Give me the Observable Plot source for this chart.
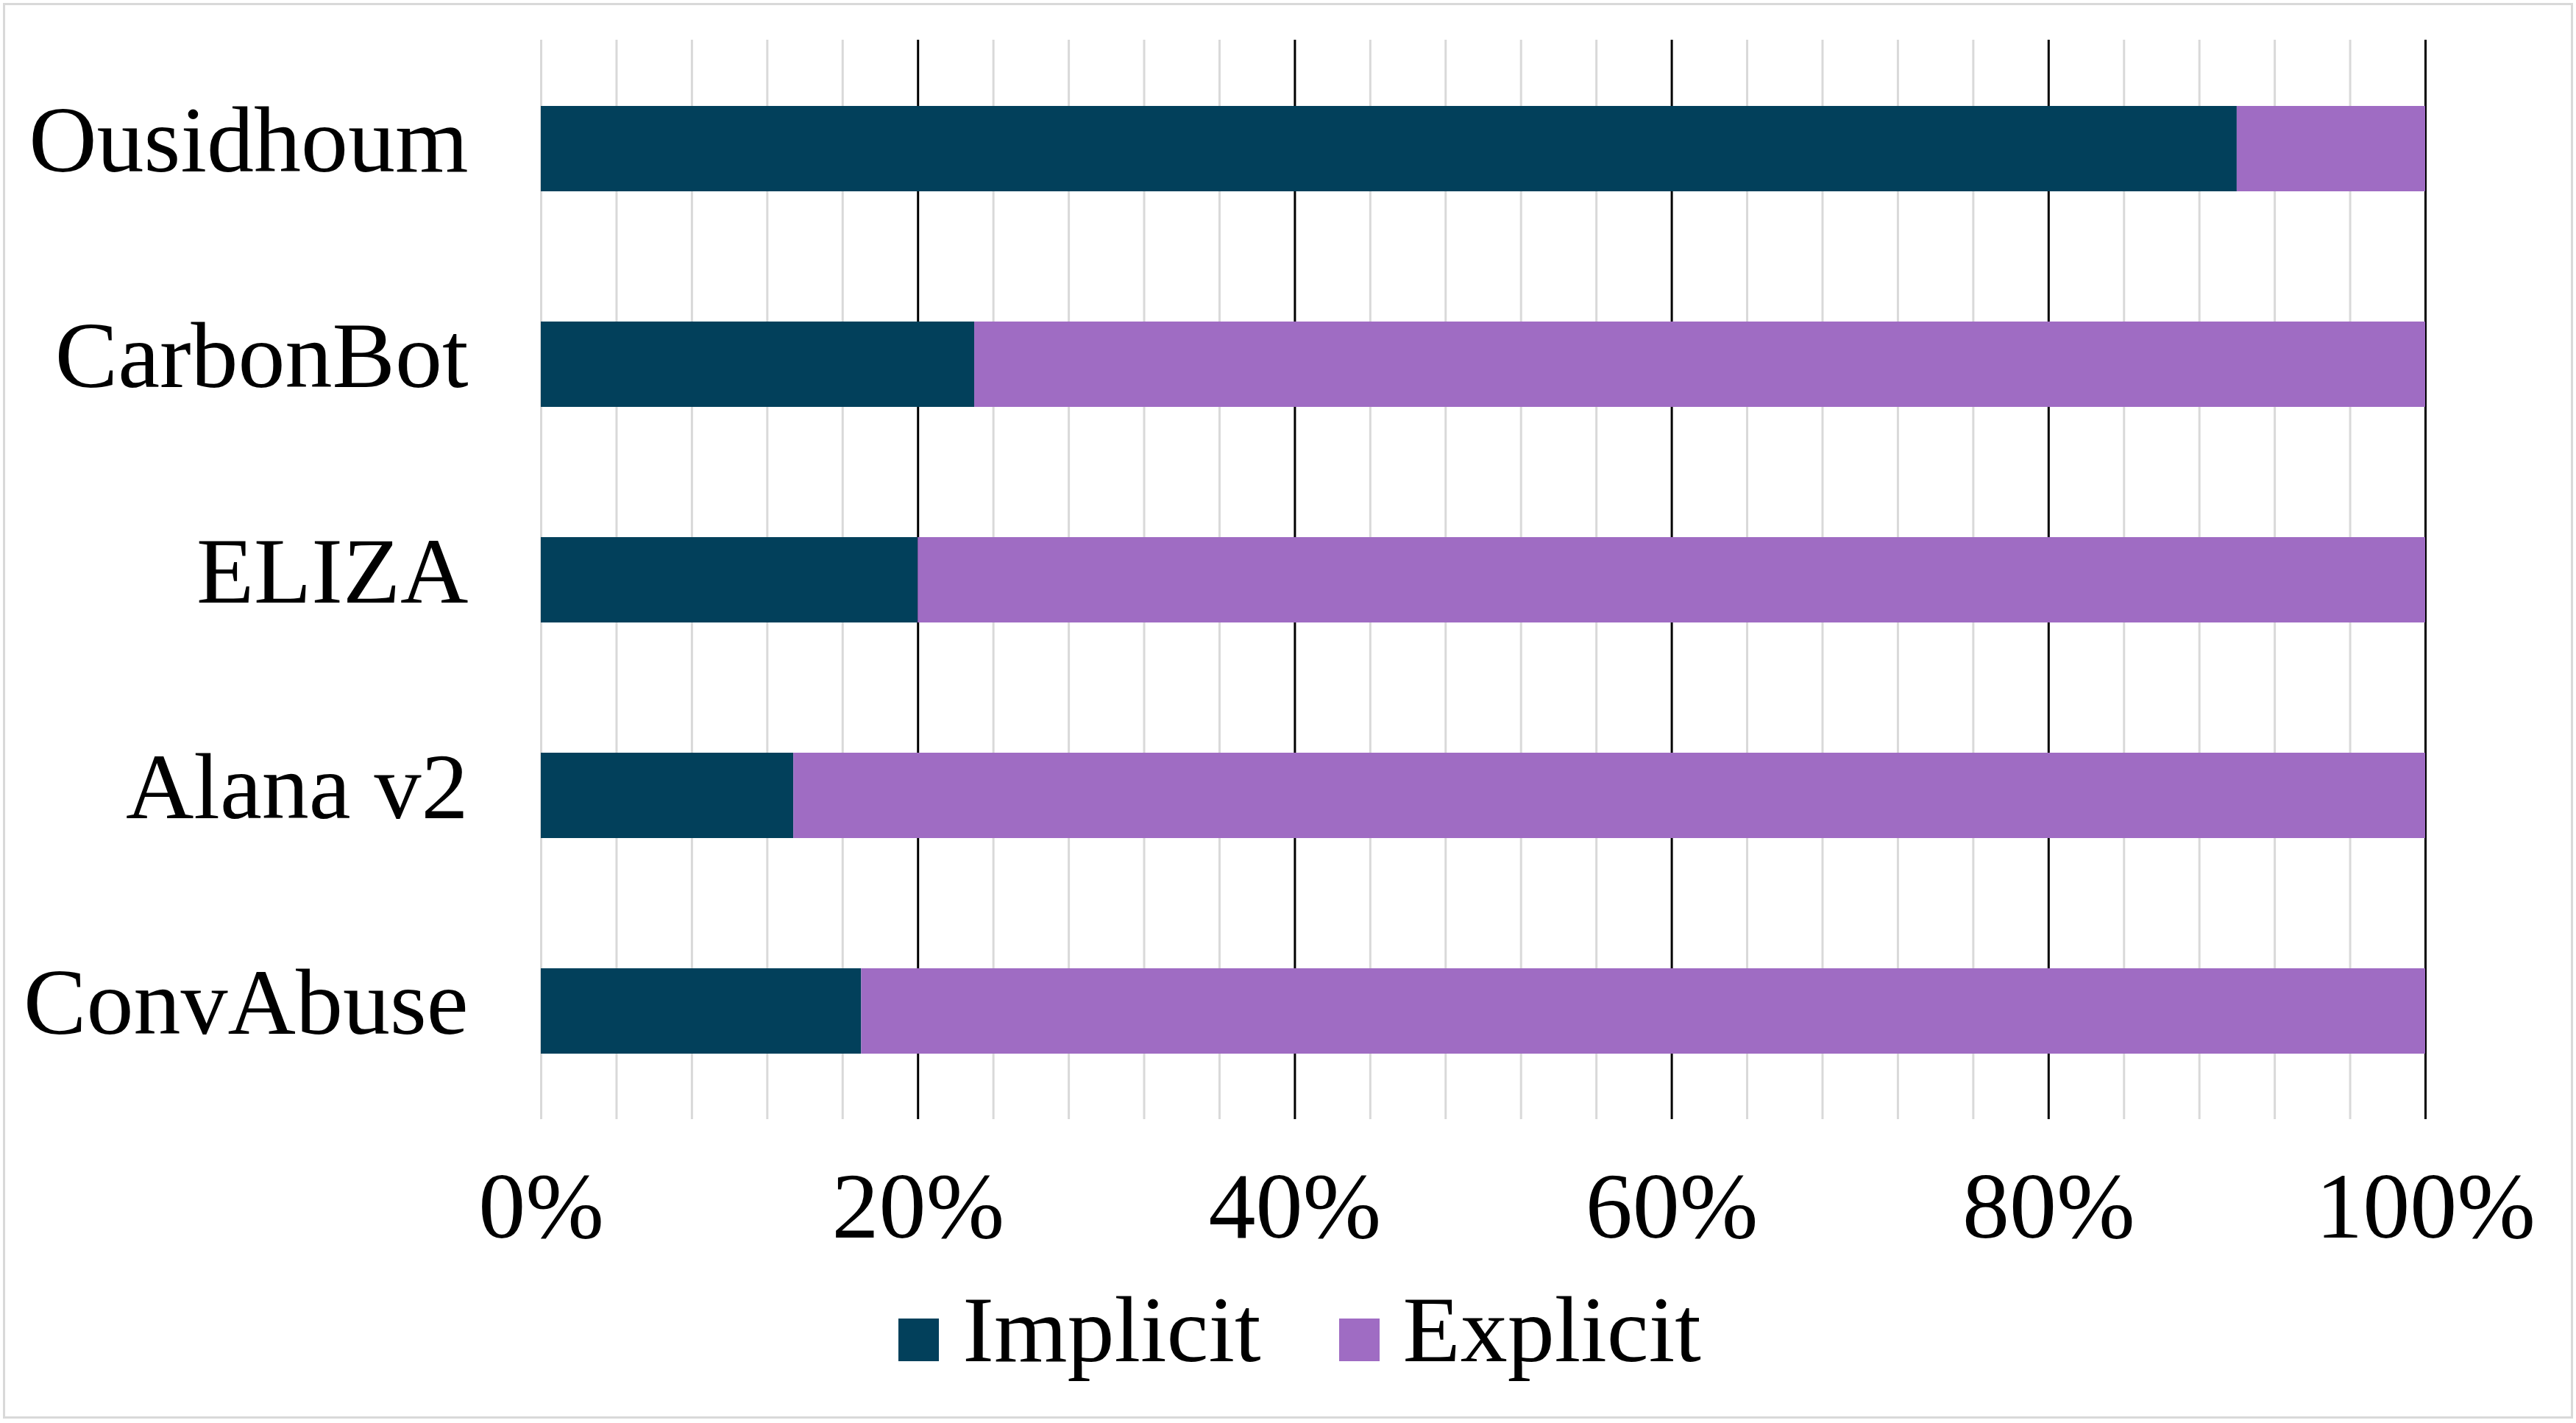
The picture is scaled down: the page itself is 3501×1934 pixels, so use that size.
<!DOCTYPE html>
<html>
<head>
<meta charset="utf-8">
<script src="https://cdn.jsdelivr.net/npm/d3@7"></script>
<script src="https://cdn.jsdelivr.net/npm/@observablehq/plot@0.6"></script>
<style>
  html, body { margin: 0; padding: 0; background: #fff; }
  #wrap { position: relative; width: 3501px; height: 1934px; background: #fff; overflow: hidden;
          font-family: "Liberation Serif", "Times New Roman", serif; }
  #frame { position: absolute; left: 4px; top: 4px; right: 4px; bottom: 6px; border: 3px solid #d9d9d9; pointer-events: none; }
  #chart { position: absolute; left: 0; top: 0; }
  #legend { position: absolute; left: 16px; top: 1743px; width: 3501px; text-align: center;
            font-size: 128px; line-height: 1; color: #000; white-space: nowrap; }
  .sw { display: inline-block; width: 55px; height: 58px; vertical-align: baseline; margin-right: 32px; }
  .item { display: inline-block; }
  .gap { display: inline-block; width: 106px; }
</style>
</head>
<body>
<div id="wrap">
  <div id="chart"></div>
  <div id="legend"></div>
  <div id="frame"></div>
</div>
<script>
// ---- data ----
const datasets = ["Ousidhoum", "CarbonBot", "ELIZA", "Alana v2", "ConvAbuse"];
const implicitPct = [90, 23, 20, 13.4, 17];
const explicitPct = [10, 77, 80, 86.6, 83];
const seriesNames = ["Implicit", "Explicit"];
const seriesColors = ["#02405b", "#9f6cc3"];
const majorTicks = [0, 20, 40, 60, 80, 100];
const minorTicks = [4, 8, 12, 16, 24, 28, 32, 36, 44, 48, 52, 56, 64, 68, 72, 76, 84, 88, 92, 96];

const rows = [];
datasets.forEach((d, i) => {
  rows.push({name: d, type: "Implicit", value: implicitPct[i]});
  rows.push({name: d, type: "Explicit", value: explicitPct[i]});
});

const chart = Plot.plot({
  width: 3501,
  height: 1740,
  marginLeft: 735,
  marginRight: 205,
  marginTop: 54,
  marginBottom: 219,
  style: {background: "transparent", fontFamily: "\"Liberation Serif\", \"Times New Roman\", serif", fontSize: "128px", color: "#000"},
  x: {domain: [0, 100], ticks: majorTicks, tickFormat: d => d + "%", label: null},
  y: {domain: datasets, paddingInner: 0.605, paddingOuter: 0.3025, label: null},
  color: {domain: seriesNames, range: seriesColors},
  marks: [
    Plot.ruleX(minorTicks, {stroke: "#d9d9d9", strokeWidth: 3}),
    Plot.ruleX([0], {stroke: "#d9d9d9", strokeWidth: 3}),
    Plot.ruleX(majorTicks.filter(t => t > 0), {stroke: "#000", strokeWidth: 3}),
    Plot.barX(rows, Plot.stackX({x: "value", y: "name", fill: "type", order: seriesNames})),
    Plot.axisX({ticks: majorTicks, tickFormat: d => d + "%", tickSize: 0, tickPadding: 70, fontSize: 128, label: null, fill: "#000"}),
    Plot.axisY({tickSize: 0, tickPadding: 99, fontSize: 128, label: null, fill: "#000", dy: -10})
  ]
});
document.getElementById("chart").appendChild(chart);

// legend
const lg = document.getElementById("legend");
seriesNames.forEach((s, i) => {
  if (i > 0) { const g = document.createElement("span"); g.className = "gap"; lg.appendChild(g); }
  const item = document.createElement("span");
  item.className = "item";
  const sw = document.createElement("span");
  sw.className = "sw";
  sw.style.background = seriesColors[i];
  item.appendChild(sw);
  item.appendChild(document.createTextNode(s));
  lg.appendChild(item);
});
</script>
</body>
</html>
